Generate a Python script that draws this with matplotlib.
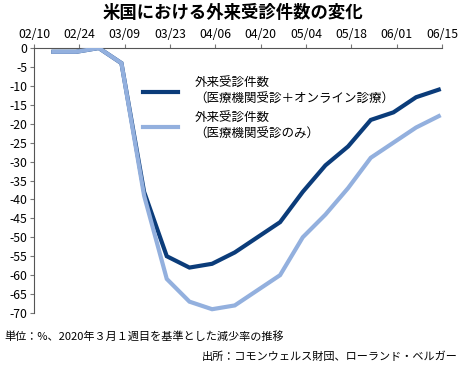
import matplotlib
matplotlib.use("Agg")
import matplotlib.pyplot as plt
import matplotlib.dates as mdates
import numpy as np
import datetime as dt

plt.rcParams['font.family'] = ['Noto Sans CJK JP', 'DejaVu Sans']

dates = ["2020-02-16", "2020-02-23", "2020-03-01", "2020-03-08", "2020-03-15",
         "2020-03-22", "2020-03-29", "2020-04-05", "2020-04-12", "2020-04-19",
         "2020-04-26", "2020-05-03", "2020-05-10", "2020-05-17", "2020-05-24",
         "2020-05-31", "2020-06-07", "2020-06-14"]
total_visits = [-1, -1, 0, -4, -38, -55, -58, -57, -54, -50, -46, -38, -31, -26, -19, -17, -13, -11]
inperson_visits = [-1, -1, 0, -4, -39, -61, -67, -69, -68, -64, -60, -50, -44, -37, -29, -25, -21, -18]
tick_labels = ["02/10", "02/24", "03/09", "03/23", "04/06", "04/20", "05/04", "05/18", "06/01", "06/15"]
y_ticks = list(range(0, -75, -5))

label_total = "外来受診件数\n（医療機関受診＋オンライン診療）"
label_inperson = "外来受診件数\n（医療機関受診のみ）"
title = "米国における外来受診件数の変化"
note = "単位：%、2020年３月１週目を基準とした減少率の推移"
source = "出所：コモンウェルス財団、ローランド・ベルガー"

x = [dt.datetime.strptime(d, "%Y-%m-%d") for d in dates]
tick_dates = [dt.datetime.strptime("2020/" + t, "%Y/%m/%d") for t in tick_labels]

dark = "#0b3c7a"
light = "#93b0de"

fig = plt.figure(figsize=(4.65, 3.72), dpi=100)
ax = fig.add_axes([34/465, 1 - 313/372, (442-34)/465, (313-48)/372])

l1, = ax.plot(x, total_visits, color=dark, lw=3.0, solid_joinstyle='miter', zorder=2)
l2, = ax.plot(x, inperson_visits, color=light, lw=3.0, solid_joinstyle='miter', zorder=3)

ax.set_xlim(tick_dates[0], tick_dates[-1])
ax.set_ylim(-70, 0)
ax.set_xticks(tick_dates)
ax.set_xticklabels(tick_labels)
ax.set_yticks(y_ticks)
ax.set_yticklabels([str(v) for v in y_ticks])
ax.xaxis.tick_top()
for s in ["bottom", "right"]:
    ax.spines[s].set_visible(False)
for s in ["top", "left"]:
    ax.spines[s].set_color("#555555")
    ax.spines[s].set_linewidth(0.8)
ax.tick_params(axis='x', direction='out', length=3, color="#777777", labelsize=8.8, pad=2)
ax.tick_params(axis='y', direction='out', length=3, color="#777777", labelsize=8.8, pad=2)
ax.set_facecolor("white")

leg = ax.legend([l1, l2], [label_total, label_inperson], loc='upper left',
                bbox_to_anchor=((143-34)/408, (313-77)/265), frameon=False, fontsize=9,
                handlelength=2.8, handletextpad=1.3, labelspacing=0.45,
                borderpad=0, borderaxespad=0)
for t in leg.get_texts():
    t.set_linespacing(1.3)

fig.text(0.5, 1 - 13/372, title, ha='center', va='center', fontsize=12.5, fontweight='bold')
fig.text(4/465, 1 - 336/372, note, ha='left', va='center', fontsize=8)
fig.text(458/465, 1 - 357/372, source, ha='right', va='center', fontsize=8)

fig.savefig("out.png", dpi=100)
